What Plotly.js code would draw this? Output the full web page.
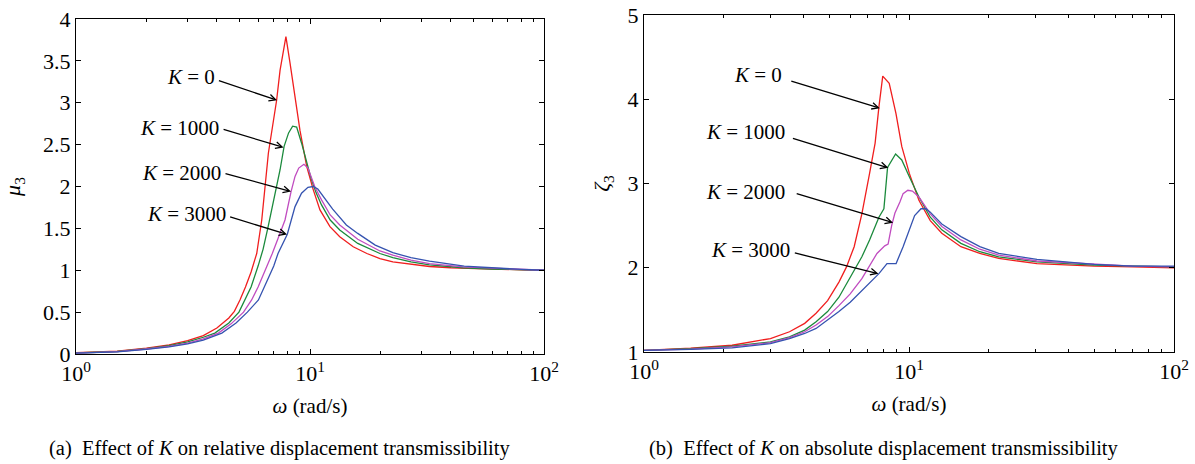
<!DOCTYPE html>
<html>
<head>
<meta charset="utf-8">
<script src="https://cdn.plot.ly/plotly-3.0.1.min.js"></script>
<style>html,body{margin:0;padding:0;background:#fff;}#chart{width:1195px;height:464px;}</style>
</head>
<body>
<div id="chart"></div>
<script>
// ---------- (a) relative displacement transmissibility mu3 ----------
const omegaA_K0 = [1, 1.5, 2, 2.5, 3, 3.5, 4, 4.5, 4.75, 5.02, 5.3, 5.6, 5.92, 6.22, 6.64, 7.2, 7.45, 7.89, 8.22, 8.63, 9.06, 9.68, 10.33, 11.03, 12.17, 13.4, 15.3, 17.5, 19.9, 22.6, 27, 32.4, 40, 50, 65, 80, 100];
const muK0 = [0.015, 0.035, 0.07, 0.11, 0.16, 0.22, 0.31, 0.43, 0.51, 0.645, 0.8, 0.98, 1.2, 1.6, 2.4, 3.03, 3.39, 3.79, 3.47, 3.07, 2.67, 2.24, 1.96, 1.72, 1.52, 1.40, 1.28, 1.20, 1.14, 1.10, 1.07, 1.045, 1.03, 1.02, 1.01, 1.005, 1.0];

const omegaA_K1000 = [1, 1.5, 2, 2.5, 3, 3.5, 3.92, 4.5, 4.97, 5.28, 5.6, 6.0, 6.3, 6.6, 6.86, 7.2, 7.45, 7.75, 8.1, 8.43, 8.77, 9.2, 9.42, 10.1, 10.6, 11.2, 12.2, 13.4, 16, 19.9, 22.6, 27, 32.4, 45, 60, 80, 100];
const muK1000 = [0.012, 0.03, 0.065, 0.10, 0.145, 0.20, 0.25, 0.37, 0.50, 0.645, 0.80, 1.05, 1.25, 1.5, 1.72, 2.0, 2.2, 2.48, 2.64, 2.72, 2.71, 2.52, 2.42, 2.1, 1.93, 1.78, 1.6, 1.48, 1.32, 1.20, 1.15, 1.10, 1.065, 1.03, 1.015, 1.005, 1.0];

const omegaA_K2000 = [1, 1.5, 2, 2.5, 3, 3.5, 4.06, 4.6, 5.2, 5.63, 6.0, 6.4, 6.9, 7.3, 7.82, 8.3, 8.63, 8.95, 9.42, 9.8, 10.1, 10.5, 11.2, 12.2, 13.4, 16, 19.9, 22.6, 27, 32.4, 45, 65, 80, 100];
const muK2000 = [0.01, 0.028, 0.06, 0.09, 0.13, 0.18, 0.25, 0.36, 0.50, 0.645, 0.80, 0.98, 1.2, 1.38, 1.6, 1.94, 2.12, 2.22, 2.265, 2.22, 2.11, 1.99, 1.84, 1.66, 1.54, 1.37, 1.23, 1.18, 1.12, 1.08, 1.04, 1.02, 1.01, 1.0];

const omegaA_K3000 = [1, 1.5, 2, 2.5, 3, 3.5, 4.2, 4.83, 5.4, 6.02, 6.5, 7.0, 7.3, 8.0, 8.63, 9.2, 9.8, 10.33, 10.8, 11.2, 12.5, 14.3, 16, 19, 22.6, 27, 32.4, 45.6, 65, 80, 100];
const muK3000 = [0.01, 0.025, 0.055, 0.085, 0.12, 0.165, 0.25, 0.37, 0.50, 0.645, 0.85, 1.05, 1.2, 1.43, 1.76, 1.92, 1.99, 2.0, 1.97, 1.91, 1.73, 1.54, 1.44, 1.30, 1.21, 1.15, 1.11, 1.05, 1.02, 1.01, 1.0];

// ---------- (b) absolute displacement transmissibility zeta3 ----------
const omegaB_K0 = [1, 1.5, 2.15, 3.0, 3.54, 4.04, 4.46, 4.93, 5.44, 5.81, 6.21, 6.64, 7.1, 7.45, 7.7, 7.96, 8.42, 8.93, 9.39, 10.03, 10.9, 12.03, 13.3, 15.7, 18.5, 21.8, 30.4, 50, 70, 100];
const zetaK0 = [1.02, 1.045, 1.08, 1.16, 1.24, 1.34, 1.46, 1.61, 1.83, 2.01, 2.25, 2.64, 3.12, 3.48, 3.91, 4.275, 4.19, 3.83, 3.44, 3.12, 2.80, 2.56, 2.41, 2.25, 2.17, 2.11, 2.05, 2.02, 2.01, 2.0];

const omegaB_K1000 = [1, 1.5, 2.15, 3.0, 3.54, 4.04, 4.46, 4.93, 5.44, 6.0, 6.64, 7.1, 7.7, 8.04, 8.3, 8.9, 9.39, 10.03, 10.9, 12.03, 13.3, 15.7, 18.5, 21.8, 30.4, 50, 70, 100];
const zetaK1000 = [1.02, 1.04, 1.07, 1.12, 1.18, 1.26, 1.36, 1.48, 1.65, 1.89, 2.13, 2.33, 2.60, 2.70, 3.19, 3.35, 3.28, 3.08, 2.84, 2.60, 2.45, 2.29, 2.19, 2.13, 2.07, 2.03, 2.02, 2.01];

const omegaB_K2000 = [1, 1.5, 2.15, 3.0, 3.54, 4.04, 4.46, 4.93, 5.44, 6.0, 6.64, 7.2, 7.57, 8.1, 8.34, 8.6, 8.85, 9.24, 9.5, 9.9, 10.3, 10.9, 12.03, 13.3, 15.7, 18.5, 21.8, 30.4, 50, 70, 100];
const zetaK2000 = [1.02, 1.035, 1.06, 1.11, 1.17, 1.24, 1.32, 1.42, 1.55, 1.69, 1.87, 2.05, 2.17, 2.26, 2.28, 2.5, 2.65, 2.78, 2.88, 2.92, 2.91, 2.84, 2.64, 2.49, 2.33, 2.22, 2.15, 2.08, 2.04, 2.02, 2.01];

const omegaB_K3000 = [1, 1.5, 2.15, 3.0, 3.54, 4.04, 4.46, 4.93, 5.44, 6.0, 6.85, 7.7, 8.26, 8.94, 9.5, 10.0, 10.5, 11.1, 11.6, 12.03, 13.3, 15.7, 18.5, 21.8, 30.4, 50, 70, 100];
const zetaK3000 = [1.02, 1.03, 1.05, 1.10, 1.16, 1.22, 1.28, 1.38, 1.48, 1.59, 1.77, 1.93, 2.05, 2.05, 2.25, 2.45, 2.62, 2.70, 2.70, 2.66, 2.52, 2.37, 2.25, 2.17, 2.10, 2.04, 2.02, 2.02];

const kLabels = ['<i>K</i> = 0', '<i>K</i> = 1000', '<i>K</i> = 2000', '<i>K</i> = 3000'];
const lineColors = ['#f01e1e', '#1b8a3c', '#c04cc0', '#3553b0'];

const xTickVals = [1, 10, 100];
const xTickText = ['10<sup>0</sup>', '10<sup>1</sup>', '10<sup>2</sup>'];
const xMinorVals = [2,3,4,5,6,7,8,9,20,30,40,50,60,70,80,90];

const FONT = 'Liberation Serif, Times New Roman, serif';

const seriesA = [[omegaA_K0, muK0], [omegaA_K1000, muK1000], [omegaA_K2000, muK2000], [omegaA_K3000, muK3000]];
const seriesB = [[omegaB_K0, zetaK0], [omegaB_K1000, zetaK1000], [omegaB_K2000, zetaK2000], [omegaB_K3000, zetaK3000]];

const traces = [];
seriesA.forEach((s, i) => traces.push({x: s[0], y: s[1], xaxis: 'x', yaxis: 'y', mode: 'lines', line: {color: lineColors[i], width: 1.3}, name: kLabels[i], hoverinfo: 'skip'}));
seriesB.forEach((s, i) => traces.push({x: s[0], y: s[1], xaxis: 'x2', yaxis: 'y2', mode: 'lines', line: {color: lineColors[i], width: 1.3}, name: kLabels[i], hoverinfo: 'skip'}));

function xAxis(domain, anchor) {
  return {
    type: 'log', range: [0, 2], domain: domain, anchor: anchor,
    tickmode: 'array', tickvals: xTickVals, ticktext: xTickText,
    ticks: 'inside', ticklen: 5, tickcolor: '#000', tickwidth: 1,
    minor: {tickmode: 'array', tickvals: xMinorVals, ticks: 'inside', ticklen: 3, tickcolor: '#000', tickwidth: 1},
    showline: true, linecolor: '#000', linewidth: 1, mirror: 'ticks',
    showgrid: false, zeroline: false,
    tickfont: {family: FONT, size: 22, color: '#000'},
    title: {text: '<i>ω</i> (rad/s)', font: {family: FONT, size: 21, color: '#000'}, standoff: 12},
    automargin: false
  };
}
function yAxis(domain, anchor, range, dtick, title, standoff) {
  return {
    range: range, domain: domain, anchor: anchor, dtick: dtick, tick0: 0,
    ticks: 'inside', ticklen: 5, tickcolor: '#000', tickwidth: 1,
    showline: true, linecolor: '#000', linewidth: 1, mirror: 'ticks',
    showgrid: false, zeroline: false,
    tickfont: {family: FONT, size: 22, color: '#000'},
    title: {text: title, font: {family: FONT, size: 22, color: '#000'}, standoff: standoff},
    automargin: false
  };
}

const annFont = {family: FONT, size: 21, color: '#000'};
const lg = Math.log10;

// label anchors (right edge of text), arrow tails and heads, in data units
const annA = [
  {tx: 3.99, ty: 3.31, ax: 4.02, ay: 3.27, hx: 7.23, hy: 3.03},
  {tx: 4.17, ty: 2.70, ax: 4.21, ay: 2.687, hx: 7.71, hy: 2.466},
  {tx: 4.25, ty: 2.167, ax: 4.29, ay: 2.16, hx: 8.30, hy: 1.94},
  {tx: 4.47, ty: 1.666, ax: 4.49, ay: 1.642, hx: 7.98, hy: 1.427}
];
const annB = [
  {tx: 3.37, ty: 4.29, ax: 3.55, ay: 4.22, hx: 7.76, hy: 3.894},
  {tx: 3.46, ty: 3.615, ax: 3.60, ay: 3.54, hx: 8.36, hy: 3.186},
  {tx: 3.46, ty: 2.903, ax: 3.72, ay: 2.884, hx: 8.71, hy: 2.535},
  {tx: 3.61, ty: 2.211, ax: 3.66, ay: 2.18, hx: 7.67, hy: 1.93}
];

const annotations = [];
function addAnn(list, xr, yr) {
  list.forEach((a, i) => {
    annotations.push({xref: xr, yref: yr, x: lg(a.tx), y: a.ty, text: kLabels[i], showarrow: false, xanchor: 'right', yanchor: 'middle', font: annFont});
    annotations.push({xref: xr, yref: yr, x: lg(a.hx), y: a.hy, axref: xr, ayref: yr, ax: lg(a.ax), ay: a.ay, text: '', showarrow: true, arrowhead: 5, arrowsize: 1, arrowwidth: 1.3, arrowcolor: '#000', standoff: 0, startstandoff: 0});
  });
}
addAnn(annA, 'x', 'y');
addAnn(annB, 'x2', 'y2');

annotations.push({xref: 'paper', yref: 'paper', x: 280/1195, y: 1 - 448/464, xanchor: 'center', yanchor: 'middle', showarrow: false,
  text: '(a)\u00a0\u00a0Effect of <i>K</i> on relative displacement transmissibility', font: {family: FONT, size: 20.5, color: '#000'}});
annotations.push({xref: 'paper', yref: 'paper', x: 884/1195, y: 1 - 448/464, xanchor: 'center', yanchor: 'middle', showarrow: false,
  text: '(b)\u00a0\u00a0Effect of <i>K</i> on absolute displacement transmissibility', font: {family: FONT, size: 20.5, color: '#000'}});

const layout = {
  width: 1195, height: 464,
  margin: {l: 0, r: 0, t: 0, b: 0},
  paper_bgcolor: '#fff', plot_bgcolor: '#fff',
  showlegend: false,
  xaxis: xAxis([76/1195, 544/1195], 'y'),
  yaxis: yAxis([1 - 354/464, 1 - 19/464], 'x', [0, 4], 0.5, '<i>μ</i><sub>3</sub>', 20),
  xaxis2: xAxis([644/1195, 1174/1195], 'y2'),
  yaxis2: yAxis([1 - 352/464, 1 - 15/464], 'x2', [1, 5], 1, '<i>ζ</i><sub>3</sub>', 11),
  annotations: annotations
};

Plotly.newPlot('chart', traces, layout, {staticPlot: true, displayModeBar: false});
</script>
</body>
</html>
